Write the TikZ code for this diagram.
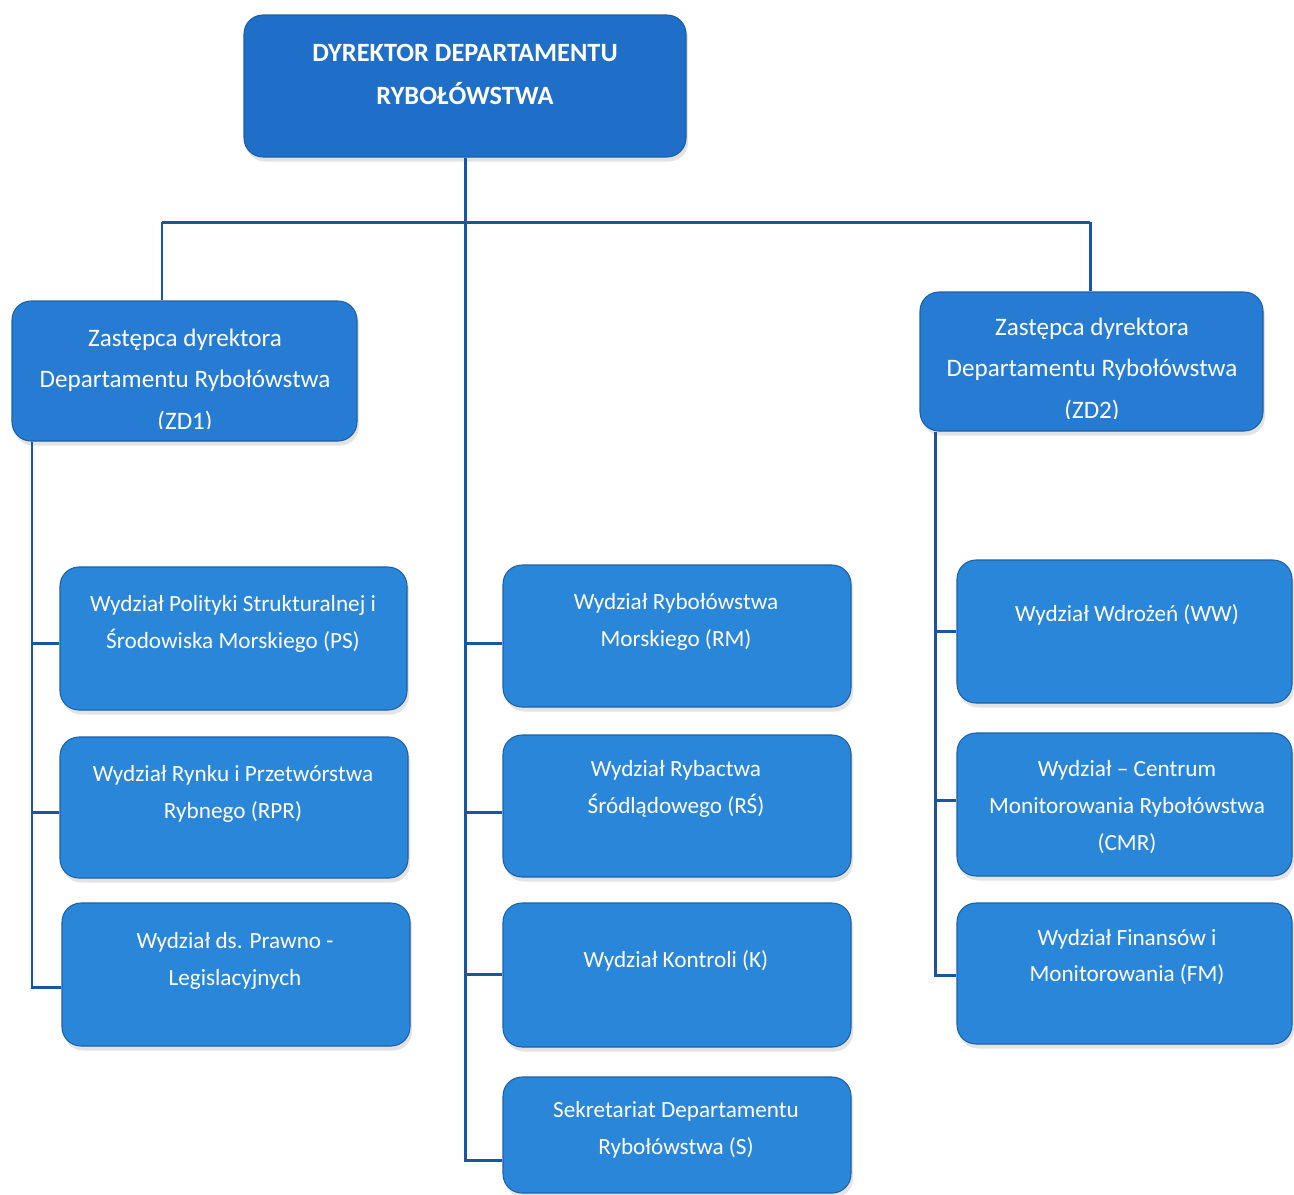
\documentclass[tikz,border=0pt]{standalone}
\usepackage{fontspec}
\setmainfont{Carlito}
\usetikzlibrary{shadows,calc}

\definecolor{unitblue}{RGB}{42,134,216}
\definecolor{headblue}{RGB}{31,110,200}
\definecolor{deputyblue}{RGB}{38,124,210}
\definecolor{edgeblue}{RGB}{28,96,170}
\definecolor{linkblue}{RGB}{24,86,165}

\tikzset{
  px/.style={x=0.02cm,y=-0.02cm},
  unitbox/.style={draw=edgeblue, line width=0.6pt, fill=unitblue, rounded corners=0.38cm,
    inner sep=0pt, drop shadow={opacity=0.22, shadow xshift=0.04cm, shadow yshift=-0.09cm}},
  headbox/.style={unitbox, fill=headblue},
  deputybox/.style={unitbox, fill=deputyblue},
  txt/.style={text=white, align=center, inner sep=0pt, font=\fontsize{13.2}{21}\selectfont},
  headtxt/.style={txt, font=\fontsize{15}{24.5}\selectfont\bfseries},
  deputytxt/.style={txt, font=\fontsize{14.3}{23.8}\selectfont},
  link/.style={draw=linkblue, line width=1.7pt}
}

% box given by its corners in pixel units: name, x1, y1, x2, y2, style
\newcommand\orgbox[6]{%
  \node[#6, minimum width={(#4-#2)*0.02cm}, minimum height={(#5-#3)*0.02cm}]
    (#1) at ({(#2+#4)/2},{(#3+#5)/2}) {};}

\begin{document}
\begin{tikzpicture}[px]
\useasboundingbox (0,0) rectangle (1294,1194);
\fill[white] (0,0) rectangle (1294,1194);

% junction points on the vertical lines
\coordinate (barL) at (162,222);
\coordinate (barR) at (1090,222);
\coordinate (trunk) at (465,222);
\coordinate (jPS) at (32,643);
\coordinate (jRPR) at (32,812);
\coordinate (jPL) at (32,987);
\coordinate (jRM) at (465,643);
\coordinate (jRS) at (465,812);
\coordinate (jK) at (465,974);
\coordinate (jS) at (465,1160);
\coordinate (jWW) at (935,631);
\coordinate (jCMR) at (935,800);
\coordinate (jFM) at (935,975);

% boxes
\orgbox{dir}{244}{15}{686}{157}{headbox}
\orgbox{zd1}{12}{301}{357}{441}{deputybox}
\orgbox{zd2}{920}{292}{1263}{431}{deputybox}

\orgbox{ps}{60}{567}{407}{710}{unitbox}
\orgbox{rpr}{60}{737}{408}{878}{unitbox}
\orgbox{prl}{62}{903}{410}{1046}{unitbox}

\orgbox{rm}{503}{565}{851}{707}{unitbox}
\orgbox{rs}{503}{735}{851}{877}{unitbox}
\orgbox{kon}{503}{903}{851}{1047}{unitbox}
\orgbox{sek}{503}{1077}{851}{1193}{unitbox}

\orgbox{ww}{957}{560}{1292}{703}{unitbox}
\orgbox{cmr}{957}{733}{1292}{876}{unitbox}
\orgbox{fm}{957}{903}{1292}{1044}{unitbox}

% connectors
\draw[link] (dir.south) -- (trunk);
\draw[link] (barL) -- (barR);
\draw[link] (barL) -- (zd1.north -| barL);
\draw[link] (barR) -- (zd2.north -| barR);
\draw[link] (trunk) |- (sek.west |- jS);
\draw[link] (jRM) -- (rm.west |- jRM);
\draw[link] (jRS) -- (rs.west |- jRS);
\draw[link] (jK) -- (kon.west |- jK);
\draw[link] (zd1.south -| jPS) |- (prl.west |- jPL);
\draw[link] (jPS) -- (ps.west |- jPS);
\draw[link] (jRPR) -- (rpr.west |- jRPR);
\draw[link] (zd2.south -| jWW) |- (fm.west |- jFM);
\draw[link] (jWW) -- (ww.west |- jWW);
\draw[link] (jCMR) -- (cmr.west |- jCMR);

% texts
\node[headtxt] (dir-t) at (465,74) {DYREKTOR DEPARTAMENTU\\RYBOŁÓWSTWA};

% deputy texts: the text frame is shorter than the box, so the last line is cut
\begin{scope}
  \clip (zd1.north west) rectangle (357,428);
  \node[deputytxt] (zd1-t) at (185,381) {Zastępca dyrektora\\Departamentu Rybołówstwa\\(ZD1)};
\end{scope}
\begin{scope}
  \clip (zd2.north west) rectangle (1263,418);
  \node[deputytxt] (zd2-t) at (1092,370) {Zastępca dyrektora\\Departamentu Rybołówstwa\\(ZD2)};
\end{scope}

\node[txt] (ps-t) at (233,624) {Wydział Polityki Strukturalnej i\\Środowiska Morskiego (PS)};
\node[txt] (rpr-t) at (233,794) {Wydział Rynku i Przetwórstwa\\Rybnego (RPR)};
\node[txt] (prl-t) at (235,961) {Wydział ds. Prawno -\\Legislacyjnych};

\node[txt] (rm-t) at (676,622) {Wydział Rybołówstwa\\Morskiego (RM)};
\node[txt] (rs-t) at (676,789) {Wydział Rybactwa\\Śródlądowego (RŚ)};
\node[txt] (kon-t) at (676,961) {Wydział Kontroli (K)};
\node[txt] (sek-t) at (676,1130) {Sekretariat Departamentu\\Rybołówstwa (S)};

\node[txt] (ww-t) at (1127,615) {Wydział Wdrożeń (WW)};
\node[txt] (cmr-t) at (1127,807) {Wydział – Centrum\\Monitorowania Rybołówstwa\\(CMR)};
\node[txt] (fm-t) at (1127,957) {Wydział Finansów i\\Monitorowania (FM)};
\end{tikzpicture}
\end{document}
